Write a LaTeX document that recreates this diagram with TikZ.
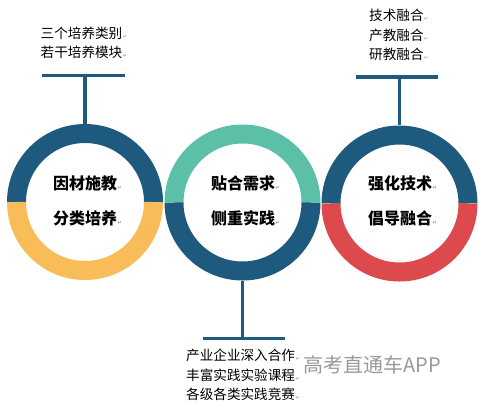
\documentclass[tikz,border=0pt]{standalone}
\usepackage{fontspec}
\setmainfont{Noto Sans CJK SC}
\newfontfamily\symfnt{DejaVu Sans}
\definecolor{navy}{HTML}{1D5A7E}
\definecolor{sun}{HTML}{F8BD59}
\definecolor{teal}{HTML}{5CBFA7}
\definecolor{coral}{HTML}{DC4A4E}
\definecolor{mark}{HTML}{8A8A8A}
\newcommand\parmk{\rlap{\kern0.6pt{\symfnt\fontsize{5}{5}\selectfont\color{mark}↵}}}
\begin{document}
\begin{tikzpicture}[x=1pt,y=-1pt,
  ringnode/.style={circle,minimum size=156pt,inner sep=0pt},
  ringseg/.style={line width=19pt},
  tline/.style={navy,line width=3.3pt},
  bigtxt/.style={font=\fontsize{16}{18}\selectfont\bfseries,inner sep=0pt,text=black},
  smalltxt/.style={font=\fontsize{13.6}{19.5}\selectfont,inner sep=0pt,align=left,anchor=west,text=black},
  wmark/.style={font=\fontsize{20}{22}\selectfont,inner sep=0pt,anchor=west,text=black!40}]
\useasboundingbox (0,0) rectangle (479,405);

% rings
\node[ringnode] (r1) at (85,202) {};
\node[ringnode] (r2) at (242.5,202.5) {};
\node[ringnode] (r3) at (399.5,203.5) {};

\draw[ringseg,navy] (r1.center) ++(180:68.5) arc[start angle=180,end angle=360,radius=68.5];
\draw[ringseg,sun]  (r1.center) ++(0:68.5) arc[start angle=0,end angle=180,radius=68.5];
\draw[ringseg,teal] (r2.center) ++(180:68.5) arc[start angle=180,end angle=360,radius=68.5];
\draw[ringseg,navy] (r2.center) ++(0:68.5) arc[start angle=0,end angle=180,radius=68.5];
\draw[ringseg,navy] (r3.center) ++(180:68.5) arc[start angle=180,end angle=360,radius=68.5];
\draw[ringseg,coral](r3.center) ++(0:68.5) arc[start angle=0,end angle=180,radius=68.5];

% ring texts
\node[bigtxt] (a1) at (85,183) {因材施教\parmk};
\node[bigtxt] (a2) at (85,218) {分类培养\parmk};
\node[bigtxt] (b1) at (243,183) {贴合需求\parmk};
\node[bigtxt] (b2) at (243,218) {侧重实践\parmk};
\node[bigtxt] (c1) at (400,183) {强化技术\parmk};
\node[bigtxt] (c2) at (400,218) {倡导融合\parmk};

% T connectors
\coordinate (k1) at (85,75.5);
\coordinate (k1l) at (42,75.5);
\coordinate (k1r) at (125,75.5);
\draw[tline] (r1.north) -- (k1);
\draw[tline] (k1l) -- (k1r);

\coordinate (k3) at (399.5,77);
\coordinate (k3l) at (356,77);
\coordinate (k3r) at (438,77);
\draw[tline] (r3.north) -- (k3);
\draw[tline] (k3l) -- (k3r);

\coordinate (k2) at (242.5,338.3);
\coordinate (k2l) at (203,338.3);
\coordinate (k2r) at (285,338.3);
\draw[tline] (r2.south) -- (k2);
\draw[tline] (k2l) -- (k2r);

% side texts
\node[smalltxt] (t1) at (40.5,43) {三个培养类别\parmk\\若干培养模块\parmk};
\node[smalltxt] (t3) at (369,35) {技术融合\parmk\\产教融合\parmk\\研教融合\parmk};
\node[smalltxt] (t2) at (186,375) {产业企业深入合作\parmk\\丰富实践实验课程\parmk\\各级各类实践竞赛\parmk};

% watermark
\node[wmark] (wm) at (303,365) {高考直通车APP};
\end{tikzpicture}
\end{document}
